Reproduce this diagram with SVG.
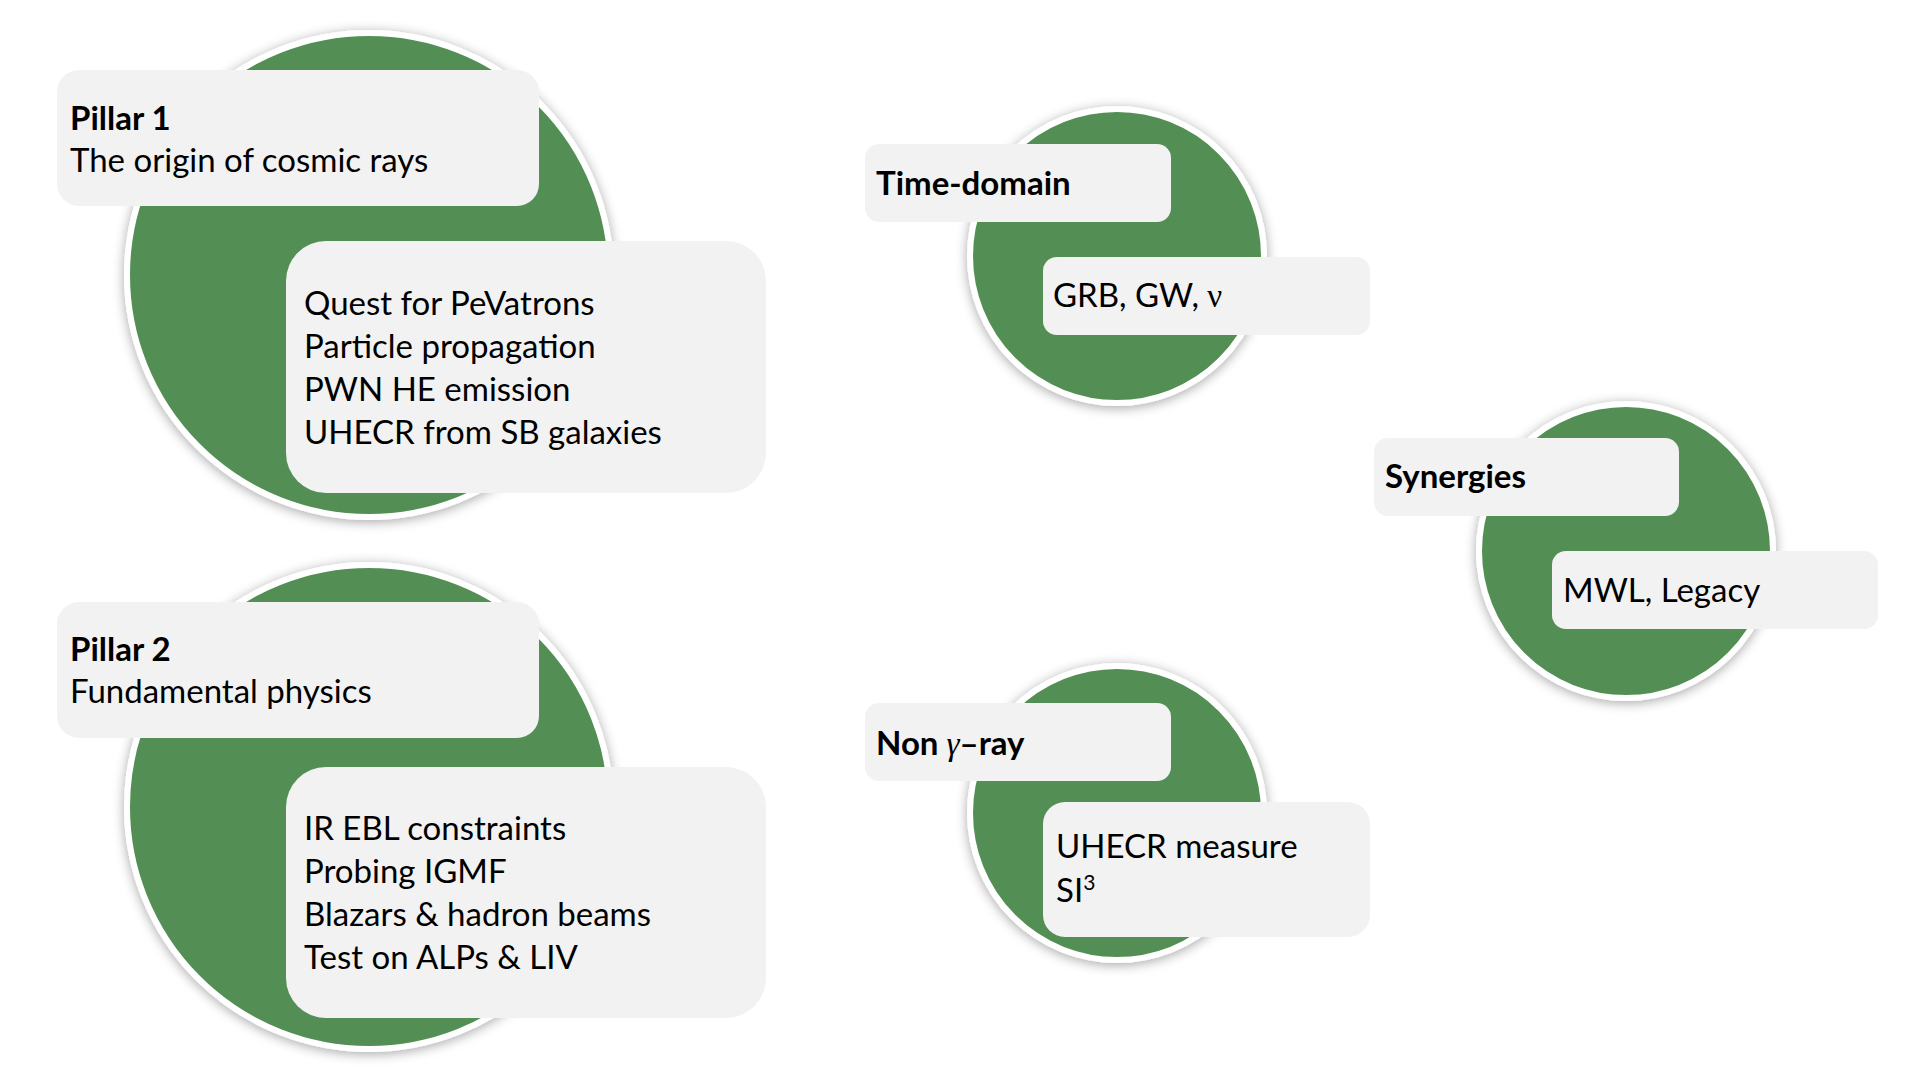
<svg xmlns="http://www.w3.org/2000/svg" width="1920" height="1081" viewBox="0 0 1920 1081">
<style>
.circ{fill:#538F55;stroke:#FFFFFF;stroke-width:6;filter:url(#sh)}
.box{fill:#F2F2F2}
.t{font-family:Lato,"Noto Sans","Liberation Sans",sans-serif;font-size:33px;fill:#000}
.b{font-weight:bold}
.g{font-family:"Liberation Serif","DejaVu Serif",serif;font-weight:normal}
</style>
<defs>
<filter id="sh" x="-20%" y="-20%" width="140%" height="140%">
<feDropShadow dx="0" dy="2" stdDeviation="6" flood-color="#000" flood-opacity="0.35"/>
</filter>
</defs>
<rect width="1920" height="1081" fill="#FFFFFF"/>
<g id="pillar1">
<circle class="circ" cx="369" cy="275" r="242"/>
<rect class="box" x="57" y="70" width="482" height="136" rx="22"/>
<rect class="box" x="286" y="241" width="480" height="252" rx="40"/>
<text class="t b" x="70" y="130">Pillar 1</text>
<text class="t" x="70" y="172">The origin of cosmic rays</text>
<text class="t" x="304" y="315">Quest for PeVatrons</text>
<text class="t" x="304" y="358">Particle propagation</text>
<text class="t" x="304" y="401">PWN HE emission</text>
<text class="t" x="304" y="444">UHECR from SB galaxies</text>
</g>
<g id="pillar2">
<circle class="circ" cx="369" cy="807" r="242"/>
<rect class="box" x="57" y="602" width="482" height="136" rx="22"/>
<rect class="box" x="286" y="767" width="480" height="251" rx="40"/>
<text class="t b" x="70" y="661">Pillar 2</text>
<text class="t" x="70" y="703">Fundamental physics</text>
<text class="t" x="304" y="840">IR EBL constraints</text>
<text class="t" x="304" y="883">Probing IGMF</text>
<text class="t" x="304" y="926">Blazars &amp; hadron beams</text>
<text class="t" x="304" y="969">Test on ALPs &amp; LIV</text>
</g>
<g id="time-domain">
<circle class="circ" cx="1117" cy="256" r="147"/>
<rect class="box" x="865" y="144" width="306" height="78" rx="14"/>
<rect class="box" x="1043" y="257" width="327" height="78" rx="14"/>
<text class="t b" x="876" y="195">Time-domain</text>
<text class="t" x="1053" y="307">GRB, GW, <tspan class="g">ν</tspan></text>
</g>
<g id="synergies">
<circle class="circ" cx="1626" cy="551" r="147"/>
<rect class="box" x="1374" y="438" width="305" height="78" rx="14"/>
<rect class="box" x="1552" y="551" width="326" height="78" rx="14"/>
<text class="t b" x="1385" y="488">Synergies</text>
<text class="t" x="1563" y="602">MWL, Legacy</text>
</g>
<g id="non-gamma-ray">
<circle class="circ" cx="1117" cy="813" r="147"/>
<rect class="box" x="865" y="703" width="306" height="78" rx="14"/>
<rect class="box" x="1043" y="802" width="327" height="135" rx="22"/>
<text class="t b" x="876" y="755">Non <tspan class="g" font-style="italic">γ</tspan>–ray</text>
<text class="t" x="1056" y="858">UHECR measure</text>
<text class="t" x="1056" y="902">SI<tspan font-size="21" dy="-12">3</tspan></text>
</g>
</svg>
